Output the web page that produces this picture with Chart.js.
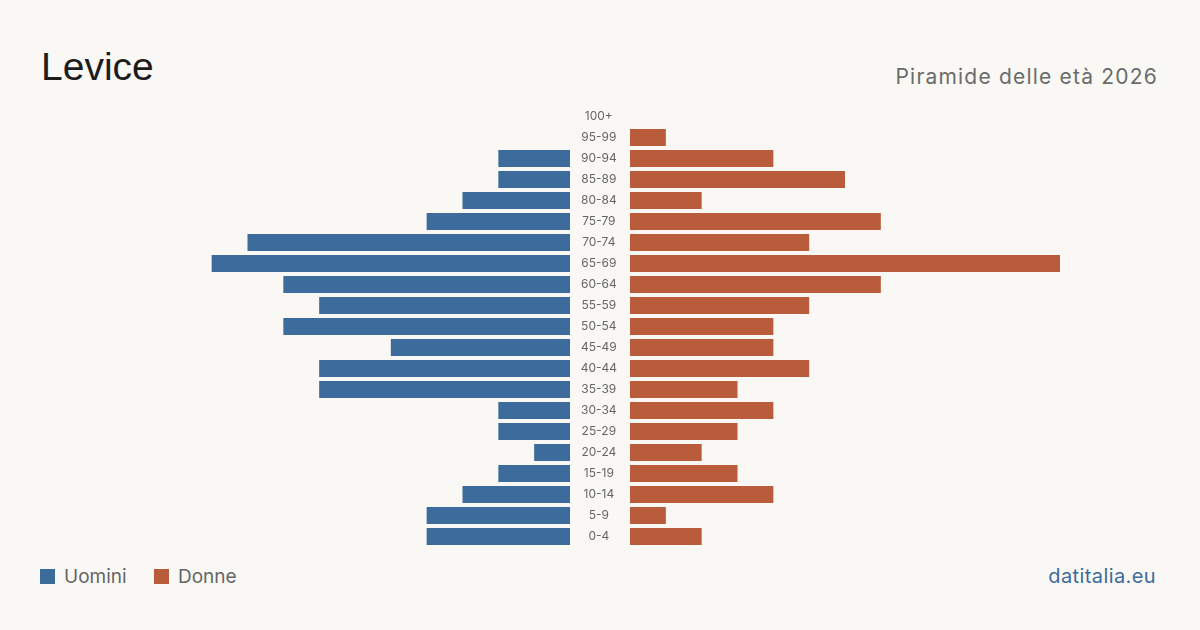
<!DOCTYPE html>
<html>
<head>
<meta charset="utf-8">
<script src="https://cdn.jsdelivr.net/npm/chart.js@4"></script>
<style>
  body { margin: 0; background: #f9f8f4; font-family: Inter, "Liberation Sans", sans-serif; }
  #page { position: relative; width: 1200px; height: 630px; overflow: hidden; }
  #title { position: absolute; left: 41px; top: 45px; font-family: "Liberation Sans", Arial, sans-serif; font-size: 39px; color: #1c1c1c; }
  #subtitle { position: absolute; right: 42px; top: 64px; font-size: 21px; letter-spacing: 1.2px; color: #6b6b6b; }
  #leftBox { position: absolute; left: 140px; top: 106px; width: 430px; height: 441px; }
  #rightBox { position: absolute; left: 570px; top: 106px; width: 490px; height: 441px; }
  #legend { position: absolute; left: 40px; top: 565px; font-size: 19px; color: #666; }
  .item { display: inline-block; margin-right: 22px; }
  .sw { display: inline-block; width: 15px; height: 15px; vertical-align: -1px; margin-right: 9px; }
  #source { position: absolute; right: 44px; top: 564px; font-size: 20px; letter-spacing: 0.4px; color: #3d6b9b; }
</style>
</head>
<body>
<div id="page">
  <div id="title">Levice</div>
  <div id="subtitle">Piramide delle età 2026</div>
  <div id="leftBox"><canvas id="menChart"></canvas></div>
  <div id="rightBox"><canvas id="womenChart"></canvas></div>
  <div id="legend">
    <span class="item"><span class="sw" style="background:#3d6b9b"></span>Uomini</span>
    <span class="item"><span class="sw" style="background:#b95c3c"></span>Donne</span>
  </div>
  <div id="source">datitalia.eu</div>
</div>
<script>
// age groups, top to bottom
const ages = ["100+", "95-99", "90-94", "85-89", "80-84", "75-79", "70-74", "65-69", "60-64", "55-59",
  "50-54", "45-49", "40-44", "35-39", "30-34", "25-29", "20-24", "15-19", "10-14", "5-9", "0-4"];

// residents per age group
const men = [0, 0, 2, 2, 3, 4, 9, 10, 8, 7, 8, 5, 7, 7, 2, 2, 1, 2, 3, 4, 4];
const women = [0, 1, 4, 6, 2, 7, 5, 12, 7, 5, 4, 4, 5, 3, 4, 3, 2, 3, 4, 1, 2];

const blue = "#3d6b9b";
const orange = "#b95c3c";

// same scale on both sides
const maxVal = Math.max(...men, ...women);

const baseOptions = {
  indexAxis: "y",
  responsive: true,
  maintainAspectRatio: false,
  animation: false,
  layout: { padding: 0 },
  plugins: { legend: { display: false }, tooltip: { enabled: false } },
};

// men, bars grow to the left
new Chart(document.getElementById("menChart"), {
  type: "bar",
  data: {
    labels: ages,
    datasets: [{ label: "Uomini", data: men, backgroundColor: blue, barPercentage: 0.81, categoryPercentage: 1 }],
  },
  options: {
    ...baseOptions,
    scales: {
      x: { display: false, reverse: true, min: 0, max: maxVal },
      y: { display: false },
    },
  },
});

// women, with the age labels in the gap
new Chart(document.getElementById("womenChart"), {
  type: "bar",
  data: {
    labels: ages,
    datasets: [{ label: "Donne", data: women, backgroundColor: orange, barPercentage: 0.81, categoryPercentage: 1 }],
  },
  options: {
    ...baseOptions,
    scales: {
      x: { display: false, min: 0, max: maxVal },
      y: {
        grid: { display: false, drawTicks: false },
        border: { display: false },
        afterFit: (scale) => {
          // fixed gap, and no extra top/bottom padding so rows line up with the men chart
          scale.width = 60;
          scale.paddingTop = 0;
          scale.paddingBottom = 0;
        },
        ticks: {
          crossAlign: "center",
          padding: 13,
          color: "#666",
          font: { family: "Inter", size: 12 },
        },
      },
    },
  },
});
</script>
</body>
</html>
